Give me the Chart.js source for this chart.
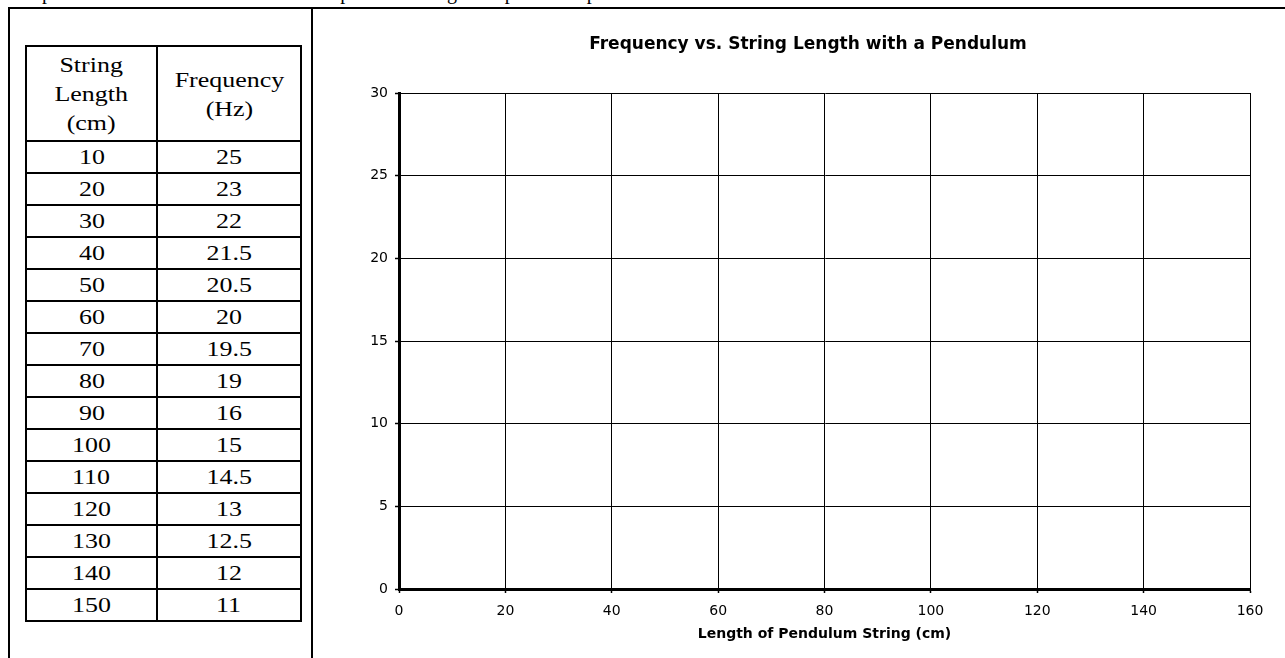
<!DOCTYPE html>
<html>
<head>
<meta charset="utf-8">
<script src="https://cdn.jsdelivr.net/npm/chart.js@4"></script>
<style>
  body { margin: 0; background: #fff; overflow: hidden; width: 1285px; height: 658px; position: relative; }
  #topline { position: absolute; left: 12px; top: -18px; font: 20px "Liberation Serif", serif; line-height: 20px; white-space: nowrap; color: #000; }
  #box { position: absolute; left: 8px; top: 7px; width: 1400px; height: 800px; border-left: 2px solid #000; border-top: 2px solid #000; }
  #divider { position: absolute; left: 311px; top: 7px; width: 2px; height: 700px; background: #000; }
  table { position: absolute; left: 25px; top: 45px; border-collapse: collapse; font: 22px "Liberation Serif", serif; color: #000; }
  td, th { border: 2px solid #000; text-align: center; padding: 0; font-weight: normal; }
  th { height: 93px; line-height: 29px; vertical-align: middle; }
  td { height: 30px; line-height: 24px; }
  .s { display: inline-block; transform: scaleX(1.18); }
  #wrap { position: absolute; left: 366px; top: 10px; width: 919px; height: 648px; }
</style>
</head>
<body>
<div id="topline">Graph the data shown in the table on the plot. Use the grid to plot these points.</div>
<div id="box"></div>
<div id="divider"></div>
<table>
  <thead>
    <tr><th style="width:129px"><span class="s">String<br>Length<br>(cm)</span></th><th style="width:142px"><span class="s">Frequency<br>(Hz)</span></th></tr>
  </thead>
  <tbody id="rows"></tbody>
</table>
<div id="wrap"><canvas id="chart" width="919" height="648"></canvas></div>
<script>
// data from the table
const stringLength = [10, 20, 30, 40, 50, 60, 70, 80, 90, 100, 110, 120, 130, 140, 150];
const frequency = [25, 23, 22, 21.5, 20.5, 20, 19.5, 19, 16, 15, 14.5, 13, 12.5, 12, 11];

// axis ticks
const xTicks = [0, 20, 40, 60, 80, 100, 120, 140, 160];
const yTicks = [0, 5, 10, 15, 20, 25, 30];

const tbody = document.getElementById('rows');
for (let i = 0; i < stringLength.length; i++) {
    tbody.innerHTML += `<tr><td><span class="s">${stringLength[i]}</span></td><td><span class="s">${frequency[i]}</span></td></tr>`;
}

const fam = '"DejaVu Sans", Verdana, sans-serif';
const tickFont = { family: fam, size: 14 };

// the grid is left blank for students to plot the points
new Chart(document.getElementById('chart'), {
    type: 'scatter',
    data: { datasets: [{ label: 'Frequency', data: [] }] },
    options: {
        responsive: false,
        animation: false,
        devicePixelRatio: 1,
        layout: { padding: { left: 0, right: 35, top: 0, bottom: 0 } },
        plugins: {
            legend: { display: false },
            tooltip: { enabled: false },
            title: {
                display: true,
                text: 'Frequency vs. String Length with a Pendulum',
                color: '#000',
                font: { family: fam, size: 17, weight: 'bold' },
                padding: { top: 24, bottom: 38.6 }
            }
        },
        scales: {
            x: {
                type: 'linear',
                min: 0,
                max: 160,
                afterBuildTicks: s => { s.ticks = xTicks.map(v => ({ value: v })); },
                afterFit: s => { s.height = 69; },
                ticks: { color: '#000', font: tickFont, padding: 10, maxRotation: 0 },
                grid: { color: '#000', lineWidth: 1, tickLength: 4, tickColor: '#000', tickWidth: 1.5 },
                border: { display: true, color: '#000', width: 3 },
                title: { display: true, text: 'Length of Pendulum String (cm)', color: '#000', font: { family: fam, size: 14, weight: 'bold' }, padding: { top: 0, bottom: 15.6 } }
            },
            y: {
                type: 'linear',
                min: 0,
                max: 30,
                afterBuildTicks: s => { s.ticks = yTicks.map(v => ({ value: v })); },
                afterFit: s => { s.width = 33; },
                ticks: { color: '#000', font: tickFont, padding: 7 },
                grid: { color: '#000', lineWidth: 1, tickLength: 4, tickColor: '#000', tickWidth: 1.5 },
                border: { display: true, color: '#000', width: 3 }
            }
        }
    }
});
</script>
</body>
</html>
